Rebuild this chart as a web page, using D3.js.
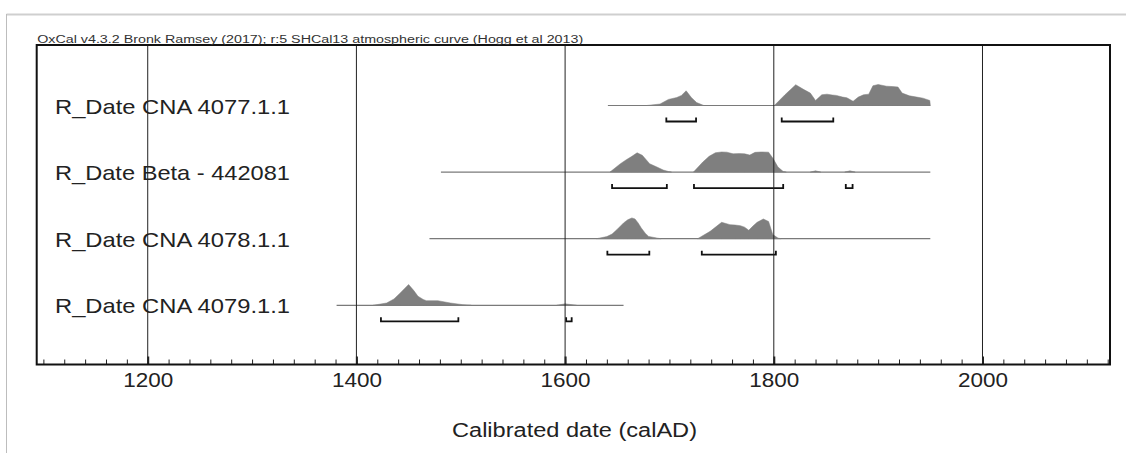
<!DOCTYPE html>
<html><head><meta charset="utf-8">
<script src="https://cdn.jsdelivr.net/npm/d3@7"></script>
<style>html,body{margin:0;padding:0;background:#fff;}svg{display:block;}</style>
</head><body>
<script>
// ---- data ----
const title = "OxCal v4.3.2 Bronk Ramsey (2017); r:5 SHCal13 atmospheric curve (Hogg et al 2013)";
const axisTitle = "Calibrated date (calAD)";
const rowLabels = ["R_Date CNA 4077.1.1", "R_Date Beta - 442081", "R_Date CNA 4078.1.1", "R_Date CNA 4079.1.1"];
const lineExtents = [[1641, 1950], [1481, 1950], [1470, 1950], [1381, 1656]];
const xDomain = [1093.6, 2122.2];
const majorTicks = [1200, 1400, 1600, 1800, 2000];
const minorTicks = d3.range(1100, 2121, 20);

// relative probability [year, p]
const dist4077 = [
  [[1678,0],[1691,0.07],[1699,0.29],[1707,0.38],[1711.5,0.48],[1716,0.7],[1721,0.38],[1726,0.14],[1733,0]],
  [[1800.5,0],[1810.7,0.51],[1821,0.99],[1828,0.78],[1835,0.59],[1840,0.24],[1846,0.51],[1851,0.54],[1856,0.5],[1860,0.48],
   [1866,0.4],[1870,0.37],[1876,0.2],[1881,0.4],[1886,0.51],[1891,0.54],[1895,0.94],[1900,1.0],[1908,0.92],[1914,0.9],
   [1919,0.88],[1923,0.59],[1930,0.46],[1937,0.4],[1943,0.35],[1949.5,0.24],[1950,0]]
];
const dist442081 = [
  [[1643,0],[1653,0.4],[1659,0.6],[1664,0.75],[1669,0.92],[1674,0.8],[1681,0.4],[1688,0.24],[1694,0.1],[1699,0.03],[1702,0]],
  [[1723,0],[1732,0.48],[1738,0.75],[1744,0.92],[1750,0.96],[1755,0.95],[1761,0.87],[1767,0.88],[1772,0.87],[1777,0.81],
   [1782,0.94],[1788,0.96],[1795,0.95],[1799.5,0.63],[1804,0.24],[1809,0.03],[1812,0]],
  [[1835,0],[1840,0.06],[1845,0]],
  [[1868,0],[1873,0.06],[1878,0]]
];
const dist4078 = [
  [[1630,0],[1640,0.1],[1645,0.22],[1650,0.45],[1656,0.75],[1660,0.9],[1664,0.99],[1667,0.94],[1670,0.75],[1673,0.51],
   [1677,0.25],[1680,0.11],[1688,0.03],[1692,0]],
  [[1727,0],[1739,0.35],[1750,0.78],[1758,0.67],[1763,0.65],[1768,0.62],[1772,0.55],[1776,0.4],[1780,0.6],[1784,0.78],
   [1790,0.94],[1795,0.82],[1799,0.2],[1804,0.03],[1807,0]]
];
const dist4079 = [
  [[1416,0],[1429,0.11],[1436,0.3],[1442,0.59],[1450,0.99],[1455,0.7],[1459,0.43],[1464,0.28],[1467,0.22],[1478,0.22],
   [1490,0.11],[1502,0.03],[1510,0]],
  [[1592,0],[1600,0.07],[1611,0]]
];
const distributions = [dist4077, dist442081, dist4078, dist4079];

// 95.4% ranges
const ranges4077 = [[1697,1725.5],[1807.6,1857]];
const ranges442081 = [[1645,1697.5],[1723.5,1809],[1869,1875.5]];
const ranges4078 = [[1640.5,1680.7],[1731,1802]];
const ranges4079 = [[1423.5,1497.7],[1601,1606.3]];
const rangeSets = [ranges4077, ranges442081, ranges4078, ranges4079];

// ---- layout ----
const W = 1126, H = 453;
const box = {left: 36.7, right: 1110, top: 45, bottom: 364.5};
const font = "'Liberation Sans', Arial, Helvetica, sans-serif";

const svg = d3.select("body").append("svg").attr("width", W).attr("height", H);
svg.append("rect").attr("width", W).attr("height", H).attr("fill", "#fff");

// outer light frame
svg.append("line").attr("x1", 6.5).attr("x2", W).attr("y1", 14.5).attr("y2", 14.5)
  .attr("stroke", "#cfcfcf").attr("stroke-width", 2);
svg.append("line").attr("x1", 6.5).attr("x2", 6.5).attr("y1", 14).attr("y2", H)
  .attr("stroke", "#bdbdbd").attr("stroke-width", 1);

const x = d3.scaleLinear().domain(xDomain).range([box.left, box.right]);
const yRow = d3.scalePoint().domain(rowLabels).range([105.5, 305.3]);
const hScale = d3.scaleLinear().domain([0, 1]).range([0, 21]);

// row labels
svg.append("g").selectAll("text").data(rowLabels).join("text")
  .attr("x", 55).attr("y", d => yRow(d) + 8)
  .attr("font-family", font).attr("font-size", 21).attr("fill", "#222")
  .attr("textLength", 235).attr("lengthAdjust", "spacingAndGlyphs")
  .text(d => d);

const rows = svg.append("g").selectAll("g").data(rowLabels).join("g")
  .attr("transform", d => `translate(0,${yRow(d)})`);

// baselines
rows.append("line")
  .attr("x1", (d, i) => x(lineExtents[i][0])).attr("x2", (d, i) => x(lineExtents[i][1]))
  .attr("stroke", "#7a7a7a").attr("stroke-width", 1.2);

// distributions
const area = d3.area().x(d => x(d[0])).y0(0).y1(d => -hScale(d[1])).curve(d3.curveLinear);
rows.each(function(d, i) {
  d3.select(this).selectAll("path.dist").data(distributions[i]).join("path")
    .attr("class", "dist").attr("d", area).attr("fill", "#7f7f7f").attr("stroke", "#7f7f7f").attr("stroke-width", 0.5);
});

// range brackets
rows.each(function(d, i) {
  d3.select(this).selectAll("path.rng").data(rangeSets[i]).join("path")
    .attr("class", "rng")
    .attr("d", r => `M${x(r[0])},12 V16 H${x(r[1])} V12`)
    .attr("fill", "none").attr("stroke", "#111").attr("stroke-width", 1.8);
});

// gridlines
svg.append("g").selectAll("line").data(majorTicks).join("line")
  .attr("x1", d => x(d)).attr("x2", d => x(d)).attr("y1", box.top).attr("y2", box.bottom)
  .attr("stroke", "#222").attr("stroke-width", 1);

// minor ticks (upward)
const axMinor = d3.axisBottom(x).tickValues(minorTicks).tickSize(-5).tickFormat("");
const gMinor = svg.append("g").attr("transform", `translate(0,${box.bottom})`).call(axMinor);
gMinor.select(".domain").remove();
gMinor.selectAll(".tick line").attr("stroke", "#222").attr("stroke-width", 1);

const axMajor = d3.axisBottom(x).tickValues(majorTicks).tickSize(-8).tickFormat(d3.format("d")).tickPadding(0);
const gMajor = svg.append("g").attr("transform", `translate(0,${box.bottom})`).call(axMajor);
gMajor.select(".domain").remove();
gMajor.selectAll(".tick line").attr("stroke", "#222").attr("stroke-width", 2);
gMajor.selectAll(".tick text")
  .attr("y", 22).attr("dy", 0)
  .attr("font-family", font).attr("font-size", 19.5).attr("fill", "#222")
  .attr("textLength", 50).attr("lengthAdjust", "spacingAndGlyphs");

// plot box
svg.append("rect").attr("x", box.left).attr("y", box.top)
  .attr("width", box.right - box.left).attr("height", box.bottom - box.top)
  .attr("fill", "none").attr("stroke", "#111").attr("stroke-width", 2);

// title
svg.append("text").attr("x", box.left + 0.5).attr("y", 42.5)
  .attr("font-family", font).attr("font-size", 10).attr("fill", "#333")
  .attr("textLength", 546).attr("lengthAdjust", "spacingAndGlyphs")
  .text(title);

// axis title
svg.append("text").attr("x", 574.5).attr("y", 437)
  .attr("text-anchor", "middle")
  .attr("font-family", font).attr("font-size", 20).attr("fill", "#222")
  .attr("textLength", 245).attr("lengthAdjust", "spacingAndGlyphs")
  .text(axisTitle);
</script>
</body></html>
